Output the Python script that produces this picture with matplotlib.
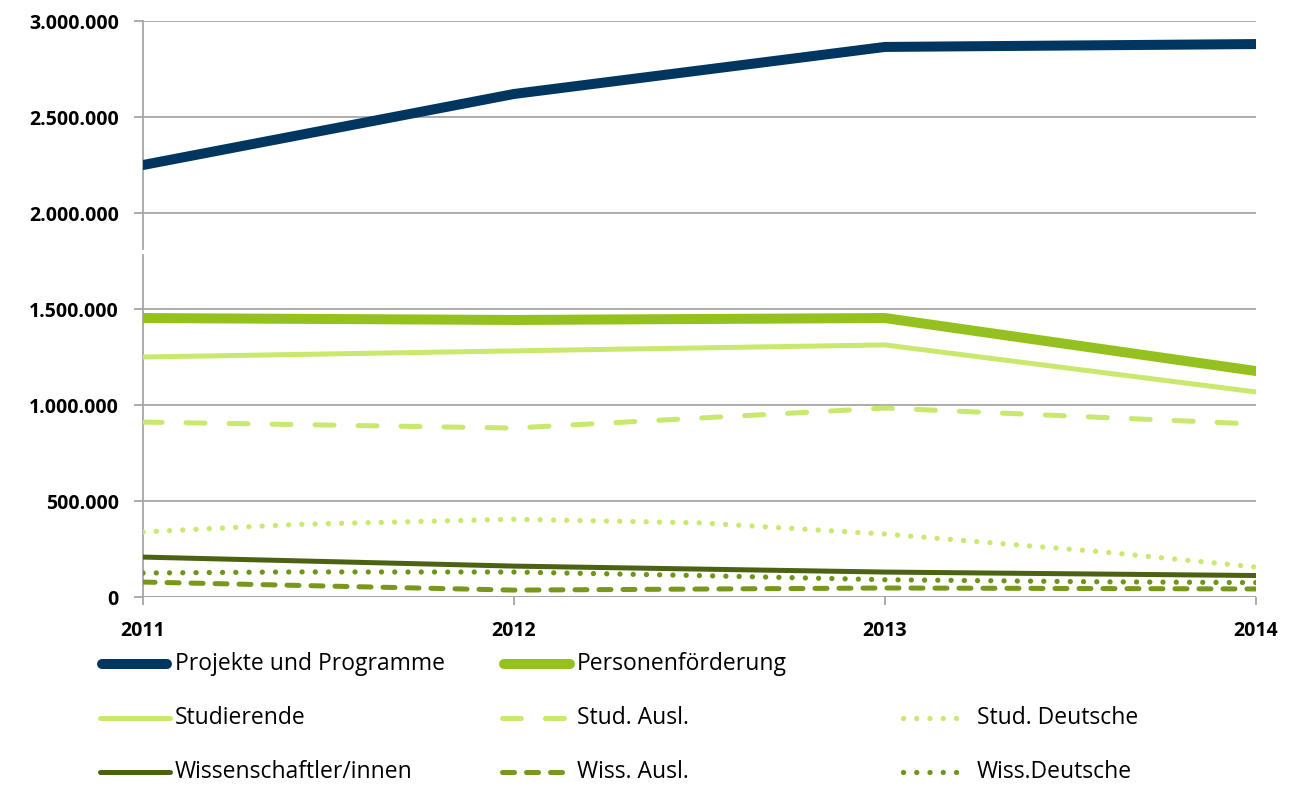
import numpy as np
import matplotlib
matplotlib.use('Agg')
from matplotlib import pyplot as plt
from matplotlib.lines import Line2D
from matplotlib.path import Path
from matplotlib.ticker import FuncFormatter

plt.rcParams['font.family'] = ['Open Sans', 'DejaVu Sans']

years = [2011, 2012, 2013, 2014]

projekte = [2250000, 2620000, 2865000, 2880000]
personen = [1453000, 1443000, 1453000, 1177000]
studierende = [1250000, 1282000, 1313000, 1068000]
stud_ausl = [911000, 880000, 984000, 901000]
stud_dt = [339000, 405000, 328000, 156000]
wiss = [208000, 161000, 130000, 112000]
wiss_ausl = [78000, 36000, 47000, 42000]
wiss_dt = [125000, 130000, 90000, 75000]

yticks = [0, 500000, 1000000, 1500000, 2000000, 2500000, 3000000]

# label, values, color, width (pt), style, smooth
series = [
    ('Projekte und Programme', projekte, '#003660', 7.2, 'solid', False),
    ('Personenförderung', personen, '#95C11F', 7.2, 'solid', False),
    ('Studierende', studierende, '#C8E86E', 3.6, 'solid', False),
    ('Stud. Ausl.', stud_ausl, '#C8E86E', 3.6, (0, (3.8, 4.8)), False),
    ('Stud. Deutsche', stud_dt, '#C8E86E', 3.8, (0, (0.01, 2.5)), True),
    ('Wissenschaftler/innen', wiss, '#4A6212', 3.6, 'solid', False),
    ('Wiss. Ausl.', wiss_ausl, '#77981A', 3.6, (0, (2.4, 2.4)), False),
    ('Wiss.Deutsche', wiss_dt, '#6E9418', 3.8, (0, (0.01, 2.5)), True),
]


def smooth_line(x, y, t=1/6):
    # Bezier segments through the points (Excel-like smoothed line), flattened for plotting
    x = np.asarray(x, float)
    y = np.asarray(y, float) / 1e6
    n = len(x)
    verts = [(x[0], y[0])]
    codes = [Path.MOVETO]
    for i in range(n - 1):
        x0, y0 = (x[i - 1], y[i - 1]) if i > 0 else (x[i], y[i])
        x3, y3 = (x[i + 2], y[i + 2]) if i + 2 < n else (x[i + 1], y[i + 1])
        c1 = (x[i] + (x[i + 1] - x0) * t, y[i] + (y[i + 1] - y0) * t)
        c2 = (x[i + 1] - (x3 - x[i]) * t, y[i + 1] - (y3 - y[i]) * t)
        verts += [c1, c2, (x[i + 1], y[i + 1])]
        codes += [Path.CURVE4] * 3
    poly = Path(verts, codes).to_polygons(closed_only=False)[0]
    return poly[:, 0], poly[:, 1] * 1e6


fig = plt.figure(figsize=(12.98, 7.87), dpi=100)
ax = fig.add_axes([0.1102, 0.2414, 0.8574, 0.7319])

for label, vals, col, lw, ls, smooth in series:
    if smooth:
        xs, ys = smooth_line(years, vals)
    else:
        xs, ys = years, vals
    ax.plot(xs, ys, color=col, linewidth=lw, linestyle=ls,
            solid_capstyle='round', dash_capstyle='round', zorder=3)

ax.set_xlim(2011, 2014)
ax.set_ylim(0, 3000000)
ax.set_xticks(years)
ax.set_yticks(yticks)
ax.yaxis.set_major_formatter(FuncFormatter(lambda v, p: '{:,.0f}'.format(v).replace(',', '.')))
ax.grid(axis='y', color='#A6A6A6', linewidth=1.3)
ax.set_axisbelow(True)
for s in ax.spines.values():
    s.set_visible(False)

# y axis with a small break
ax.plot([2011, 2011], [0, 1780000], color='#A6A6A6', linewidth=1.3, clip_on=False, zorder=2)
ax.plot([2011, 2011], [1815000, 3000000], color='#A6A6A6', linewidth=1.3, clip_on=False, zorder=2)
ax.axhline(0, color='#A6A6A6', linewidth=1.3, zorder=2)

ax.tick_params(axis='y', length=6.5, width=1.3, color='#A6A6A6', pad=11, labelsize=14)
ax.tick_params(axis='x', length=6, width=1.3, color='#A6A6A6', pad=11, labelsize=14)
for lab in ax.get_xticklabels() + ax.get_yticklabels():
    lab.set_fontweight('bold')

# legend laid out like the original (3 columns, first row has two entries)
cols_x = [(97, 172, 175), (499, 575, 577), (900, 968, 977)]
rows_y = [664, 718, 772]
slots = [(0, 0), (0, 1), (1, 0), (1, 1), (1, 2), (2, 0), (2, 1), (2, 2)]
W, H = 1298.0, 787.0
for (label, vals, col, lw, ls, smooth), (r, c) in zip(series, slots):
    x0, x1, xt = cols_x[c]
    cap = lw * 100 / 72 / 2
    y = 1 - rows_y[r] / H
    fig.add_artist(Line2D([(x0 + cap) / W, (x1 - cap) / W], [y, y], color=col, linewidth=lw,
                          linestyle=ls, solid_capstyle='round', dash_capstyle='round',
                          transform=fig.transFigure))
    fig.text(xt / W, y, label, fontsize=16.5, va='center', ha='left')

fig.savefig('out.png', dpi=100)
